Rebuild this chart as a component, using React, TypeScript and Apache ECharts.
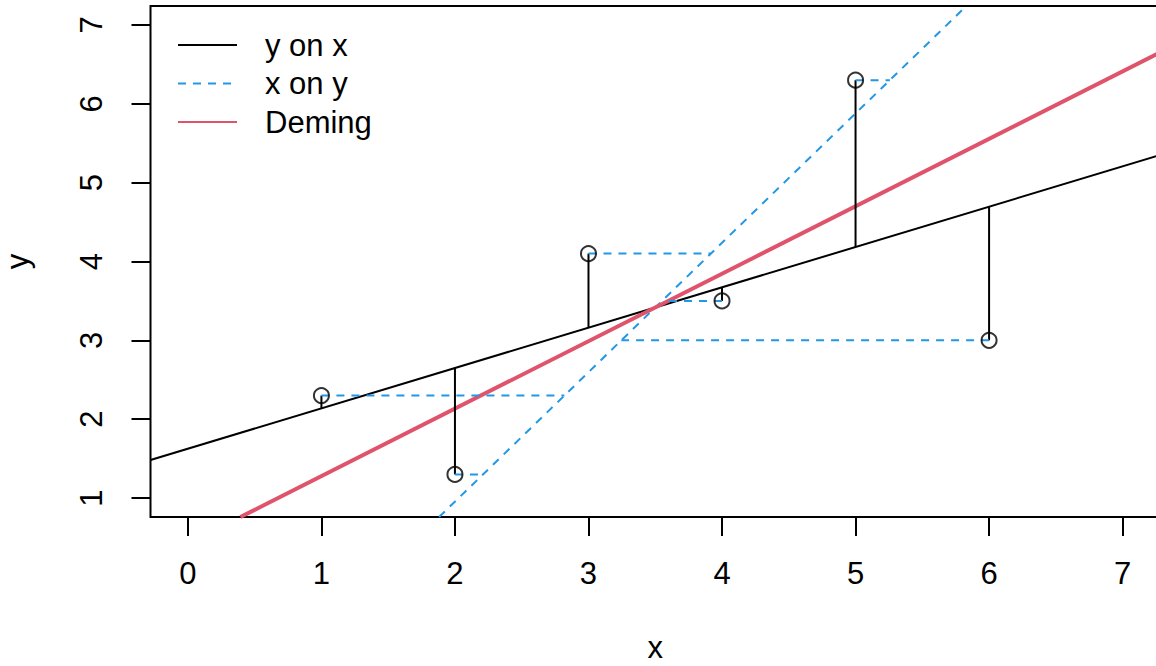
import React, { useEffect, useRef } from "react";
import * as echarts from "echarts";

// Observations
const xValues = [1, 2, 3, 4, 5, 6];
const yValues = [2.3, 1.3, 4.1, 3.5, 6.3, 3.0];

// Axis limits and tick positions
const xLimits = [-0.28, 7.28];
const yLimits = [0.76, 7.24];
const xTicks = [0, 1, 2, 3, 4, 5, 6, 7];
const yTicks = [1, 2, 3, 4, 5, 6, 7];

const legendLabels = ["y on x", "x on y", "Deming"];
const lineColors = ["#000000", "#2297E6", "#DF536B"];

const FONT = "Liberation Sans, Arial, Helvetica, sans-serif";
const FONT_SIZE = 31;

// Least-squares fits: y on x, x on y, and orthogonal (Deming, lambda = 1)
function fits() {
  const n = xValues.length;
  const mx = xValues.reduce((a, b) => a + b, 0) / n;
  const my = yValues.reduce((a, b) => a + b, 0) / n;
  let sxx = 0, syy = 0, sxy = 0;
  for (let i = 0; i < n; i++) {
    const dx = xValues[i] - mx;
    const dy = yValues[i] - my;
    sxx += dx * dx;
    syy += dy * dy;
    sxy += dx * dy;
  }
  const bYX = sxy / sxx;
  const aYX = my - bYX * mx;
  const bXY = sxy / syy; // x = aXY + bXY * y
  const aXY = mx - bXY * my;
  const bD = (syy - sxx + Math.sqrt((syy - sxx) ** 2 + 4 * sxy * sxy)) / (2 * sxy);
  const aD = my - bD * mx;
  return { aYX, bYX, aXY, bXY, aD, bD };
}

export default function App() {
  const ref = useRef<HTMLDivElement>(null);

  useEffect(() => {
    if (!ref.current) return;
    const chart = echarts.init(ref.current, null, { renderer: "svg" });
    const { aYX, bYX, aXY, bXY, aD, bD } = fits();

    const lineSeries = (data: number[][], color: string, width: number, dashed: boolean, z: number) => ({
      type: "line",
      data,
      symbol: "none",
      silent: true,
      clip: true,
      z,
      lineStyle: { color, width, type: dashed ? [8, 7] : "solid", cap: "butt" },
    });

    const yOnX = [
      [xLimits[0], aYX + bYX * xLimits[0]],
      [xLimits[1], aYX + bYX * xLimits[1]],
    ];
    const xOnY = [
      [aXY + bXY * yLimits[0], yLimits[0]],
      [aXY + bXY * yLimits[1], yLimits[1]],
    ];
    const deming = [
      [(yLimits[0] - aD) / bD, yLimits[0]],
      [xLimits[1], aD + bD * xLimits[1]],
    ];

    const residualsY = xValues.map((x, i) =>
      lineSeries([[x, yValues[i]], [x, aYX + bYX * x]], "#000000", 2, false, 5)
    );
    const residualsX = yValues.map((y, i) =>
      lineSeries([[xValues[i], y], [aXY + bXY * y, y]], "#2297E6", 2, true, 5)
    );

    const legendRows = legendLabels.map((label, i) => {
      const yPos = 45 + i * 38.5;
      return [
        {
          type: "line",
          shape: { x1: 178, y1: yPos, x2: 237, y2: yPos },
          style: {
            stroke: lineColors[i],
            lineWidth: 2,
            lineDash: i === 1 ? [8, 7] : null,
          },
        },
        {
          type: "text",
          x: 265,
          y: yPos,
          style: {
            text: label,
            fill: "#000",
            font: `${FONT_SIZE}px ${FONT}`,
            verticalAlign: "middle",
            align: "left",
          },
        },
      ];
    }).flat();

    chart.setOption({
      animation: false,
      backgroundColor: "#ffffff",
      textStyle: { fontFamily: FONT },
      grid: {
        left: 150.5,
        right: -4,
        top: 6,
        bottom: 149,
        show: true,
        outerBoundsMode: "none",
        containLabel: false,
        borderColor: "#000",
        borderWidth: 2,
        backgroundColor: "transparent",
      },
      xAxis: {
        type: "value",
        min: xLimits[0],
        max: xLimits[1],
        name: "x",
        nameLocation: "middle",
        nameGap: 118,
        nameTextStyle: { fontSize: FONT_SIZE, lineHeight: 24, color: "#000", fontFamily: FONT },
        axisLine: { show: false, onZero: false },
        splitLine: { show: false },
        axisTick: {
          show: true,
          inside: false,
          customValues: xTicks,
          length: 19,
          lineStyle: { color: "#000", width: 2 },
        },
        axisLabel: {
          customValues: xTicks,
          fontSize: FONT_SIZE,
          color: "#000",
          fontFamily: FONT,
          margin: 41,
        },
      },
      yAxis: {
        type: "value",
        min: yLimits[0],
        max: yLimits[1],
        name: "y",
        nameLocation: "middle",
        nameGap: 118,
        nameTextStyle: { fontSize: FONT_SIZE, color: "#000", fontFamily: FONT },
        axisLine: { show: false, onZero: false },
        splitLine: { show: false },
        axisTick: {
          show: true,
          inside: false,
          customValues: yTicks,
          length: 19,
          lineStyle: { color: "#000", width: 2 },
        },
        axisLabel: {
          customValues: yTicks,
          rotate: 90,
          fontSize: FONT_SIZE,
          color: "#000",
          fontFamily: FONT,
          margin: 44,
        },
      },
      graphic: legendRows,
      series: [
        lineSeries(yOnX, lineColors[0], 2, false, 2),
        lineSeries(xOnY, lineColors[1], 2, true, 2),
        lineSeries(deming, lineColors[2], 4, false, 3),
        ...residualsY,
        ...residualsX,
        {
          type: "scatter",
          data: xValues.map((x, i) => [x, yValues[i]]),
          symbol: "circle",
          symbolSize: 15,
          silent: true,
          z: 10,
          itemStyle: { color: "transparent", borderColor: "#000", borderWidth: 2 },
        },
      ],
    });

    return () => chart.dispose();
  }, []);

  return (
    <div
      ref={ref}
      style={{ position: "absolute", left: 0, top: 0, width: 1156, height: 666 }}
    />
  );
}
